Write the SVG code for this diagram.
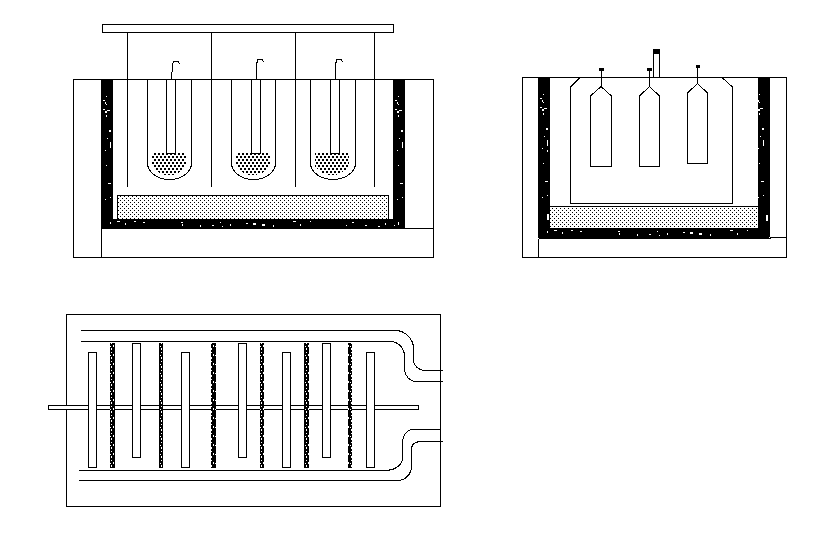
<svg xmlns="http://www.w3.org/2000/svg" width="827" height="547" viewBox="0 0 827 547">
<style>
.l{fill:none;stroke:#000;stroke-width:1;shape-rendering:crispEdges}
.w{fill:#fff;stroke:#000;stroke-width:1;shape-rendering:crispEdges}
.c{fill:none;stroke:#000;stroke-width:1;shape-rendering:crispEdges}
.k{fill:#000;shape-rendering:crispEdges}
.s{fill:#fff;shape-rendering:crispEdges}
.sand{fill:url(#sand);shape-rendering:crispEdges}
.grain{fill:url(#grain);shape-rendering:crispEdges}
.strip{fill:url(#strip);shape-rendering:crispEdges}
</style>
<defs>
<pattern id="sand" width="4" height="4" patternUnits="userSpaceOnUse"><rect width="4" height="4" fill="#fff"/><rect x="0" y="0" width="1" height="1"/><rect x="2" y="2" width="1" height="1"/></pattern>
<pattern id="grain" width="4" height="6" patternUnits="userSpaceOnUse"><rect x="0" y="0" width="2" height="2"/><rect x="2" y="3" width="2" height="2"/></pattern>
<pattern id="strip" width="5" height="9" patternUnits="userSpaceOnUse"><rect width="5" height="9" fill="#000"/><rect x="1" y="1" width="1" height="1" fill="#fff"/><rect x="3" y="3" width="1" height="2" fill="#fff"/><rect x="1" y="6" width="1" height="2" fill="#fff"/><rect x="0" y="4" width="1" height="1" fill="#fff"/></pattern>
<path id="wallSpeck" d="M106 96h1v1h-1zM103 100h2v1h-2zM105 102h1v2h-1zM106 104h1v1h-1zM103 109h2v1h-2zM107 110h3v1h-3zM105 111h2v2h-2zM106 115h1v2h-1zM109 130h2v2h-2zM107 138h1v1h-1zM110 142h1v6h-1zM105 150h1v1h-1zM106 165h1v1h-1zM108 183h3v1h-3zM105 199h1v1h-1zM110 197h1v1h-1z"/>
<path id="floorSpeck" d="M110 222h1v2h-1zM117 221h3v1h-3zM125 223h1v2h-1zM134 221h2v1h-2zM143 222h2v1h-2zM181 222h2v1h-2zM182 224h1v2h-1zM200 225h1v2h-1zM212 225h2v1h-2zM222 226h1v1h-1zM220 222h1v1h-1zM230 224h1v2h-1zM246 223h2v1h-2zM253 223h3v2h-3zM262 224h3v2h-3zM273 225h1v2h-1zM293 221h3v1h-3zM300 224h1v2h-1zM310 221h1v1h-1zM346 225h1v1h-1zM352 222h2v1h-2zM365 225h2v1h-2zM378 226h2v1h-2zM385 223h1v2h-1zM394 225h1v1h-1zM398 222h1v3h-1z"/>
</defs>
<rect width="827" height="547" fill="#fff"/>

<g id="furnace-front">
  <rect class="l" x="73.500" y="79.500" width="360" height="178"/>
  <rect class="k" x="101" y="79" width="12" height="150"/>
  <rect class="k" x="393" y="79" width="12" height="150"/>
  <rect class="k" x="101" y="219" width="304" height="10"/>
  <use href="#wallSpeck" class="s"/>
  <use href="#wallSpeck" class="s" x="292"/>
  <use href="#floorSpeck" class="s"/>
  <path class="l" d="M101.500 228.500V257.500M101.500 228.500H433.500"/>
  <rect class="sand" x="117" y="195" width="272" height="24"/>
  <path class="l" d="M117.500 219V195.500H388.500V219"/>
</g>
<g id="lid">
  <rect class="l" x="102.500" y="24.500" width="291" height="8"/>
  <path class="l" d="M127.500 32.500V186.500M211.500 32.500V186.500M295.500 32.500V186.500M374.500 32.500V186.500"/>
</g>
<g id="tube-1">
  <path class="c" d="M147.500 79.500V163A22 16.500 0 0 0 191.500 163V79.500"/>
  <path class="grain" d="M152 153H186V166Q180 175 169 175Q158 175 152 166Z"/>
  <path class="w" d="M166.500 79.500V153.500H175.500V79.500"/>
  <path class="c" d="M171.500 80.500L172.500 63.500L174 61.500H178L179.500 64"/>
</g>
<g id="tube-2">
  <path class="c" d="M231.500 79.500V163A22 16.500 0 0 0 275.500 163V79.500"/>
  <path class="grain" d="M236 153H270V166Q264 175 253 175Q242 175 236 166Z"/>
  <path class="w" d="M251.500 79.500V153.500H260.500V79.500"/>
  <path class="c" d="M256.500 79.500V64L258 59.500H262L263.500 62"/>
</g>
<g id="tube-3">
  <path class="c" d="M310.500 79.500V163A22.500 16.500 0 0 0 355.500 163V79.500"/>
  <path class="grain" d="M315 153H349V166Q343 175 332 175Q321 175 315 166Z"/>
  <path class="w" d="M330.500 79.500V153.500H339.500V79.500"/>
  <path class="c" d="M335.500 79.500V64L337 59.500H341L342.500 62"/>
</g>

<g id="furnace-side">
  <rect class="l" x="522.500" y="77.500" width="264" height="180"/>
  <rect class="k" x="538" y="77" width="12" height="161"/>
  <rect class="k" x="758" y="77" width="12" height="161"/>
  <rect class="k" x="538" y="228" width="232" height="10"/>
  <use href="#wallSpeck" class="s" x="437" y="-2"/>
  <use href="#wallSpeck" class="s" x="653" y="-2"/>
  <use href="#floorSpeck" class="s" x="437" y="9"/>
  <path class="s" d="M547 150h1v2h-1zM547 214h2v6h-2zM766 215h2v6h-2zM769 237h18v1h-18z"/>
  <path class="l" d="M538.500 238.500H770.500M770 237.500H786.500M538.500 238.500V257.500"/>
  <rect class="sand" x="550" y="206" width="208" height="22"/>
  <path class="l" d="M550 206.500H758"/>
  <path class="c" d="M580 77.500L570.500 87V203.500H732.500V87L722 77.500"/>
</g>
<g id="bottle-1">
  <path class="c" d="M601 86.500L590.500 96V166.500H611.500V96L601 86.500V70"/>
  <rect class="k" x="599" y="68" width="5" height="3" rx="1"/>
</g>
<g id="bottle-2">
  <path class="c" d="M649.500 86.500L639.500 96V166.500H659.500V96L649.500 86.500V70"/>
  <rect class="k" x="647" y="68" width="5" height="3" rx="1"/>
</g>
<g id="bottle-3">
  <path class="c" d="M697.500 83.500L687.500 93V163.500H707.500V93L697.500 83.500V66"/>
  <rect class="k" x="696" y="65" width="4" height="3"/>
</g>
<g id="chimney">
  <path class="l" d="M653.500 77.500V50.500M659.500 77.500V50.500"/>
  <rect class="k" x="653" y="49" width="7" height="5" rx="1.500"/>
</g>

<g id="plan">
  <rect class="l" x="66.500" y="314.500" width="374" height="192"/>
  <path class="c" d="M81 330.500H396C405 331 413 338 413.500 348V361C414 366 419 370.500 425 370.500H443"/>
  <path class="c" d="M81 341.500H391C399 342 404.500 349 404.500 356V370C405 376 410 381.500 416 381.500H443"/>
  <path class="c" d="M79 470.500H387C395 470 402 465 402.500 459V442C403 435 407 429.500 413 429.500H441"/>
  <path class="c" d="M79 480.500H398C406 480 411 474 411.500 467V448C412 444 416 441.500 422 441.500H443"/>
  <rect class="w" x="48.500" y="405.500" width="370" height="4"/>
  <g id="plates">
    <rect class="w" x="88.500" y="352.500" width="8" height="115"/>
    <rect class="w" x="132.500" y="343.500" width="8" height="114"/>
    <rect class="w" x="181.500" y="352.500" width="8" height="115"/>
    <rect class="w" x="238.500" y="343.500" width="8" height="114"/>
    <rect class="w" x="282.500" y="352.500" width="8" height="115"/>
    <rect class="w" x="322.500" y="343.500" width="8" height="114"/>
    <rect class="w" x="366.500" y="352.500" width="8" height="115"/>
  </g>
  <g id="strips">
    <rect class="strip" x="110" y="343" width="5" height="125"/>
    <rect class="strip" x="159" y="343" width="4" height="125"/>
    <rect class="strip" x="211" y="343" width="5" height="125"/>
    <rect class="strip" x="260" y="343" width="4" height="125"/>
    <rect class="strip" x="304" y="343" width="5" height="125"/>
    <rect class="strip" x="348" y="343" width="4" height="125"/>
  </g>
</g>
</svg>
